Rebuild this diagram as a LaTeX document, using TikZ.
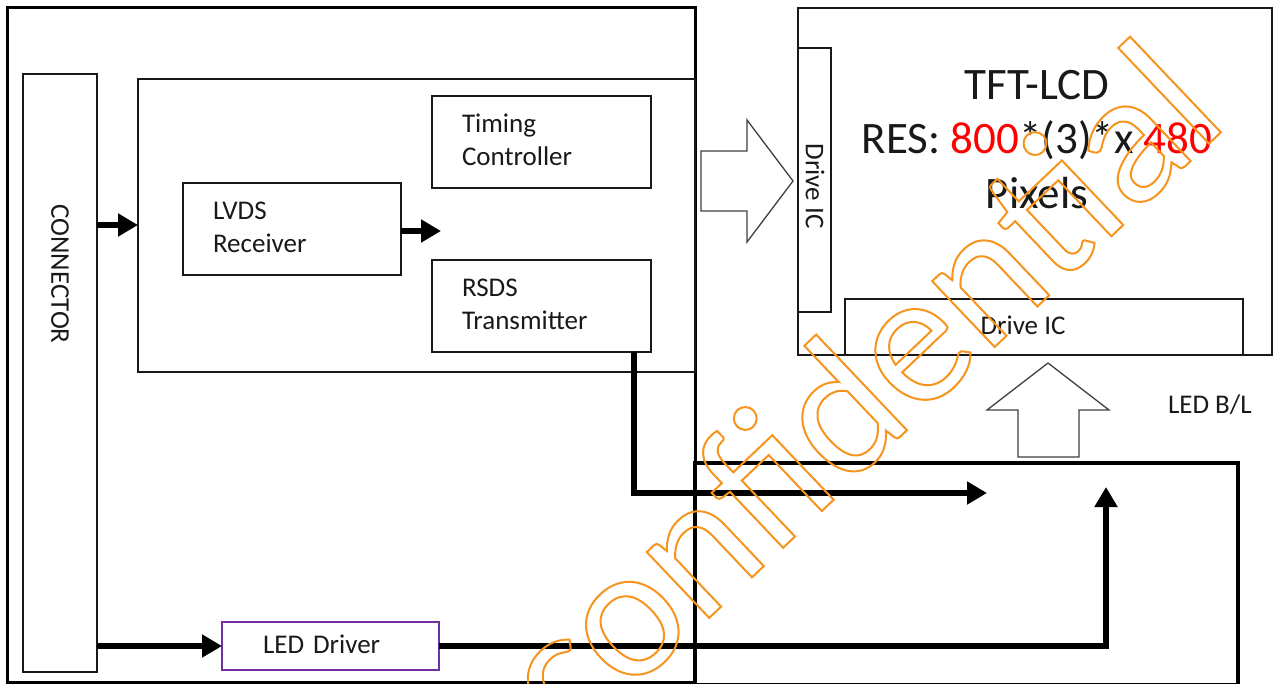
\documentclass[tikz,border=0pt]{standalone}
\usepackage{fontspec}
\setmainfont{Carlito}
\usetikzlibrary{arrows.meta,calc}
\definecolor{wm}{RGB}{247,148,30}
\definecolor{ledpurple}{RGB}{112,48,160}
\definecolor{lcdred}{RGB}{255,0,0}
\begin{document}
\begin{tikzpicture}[x=1pt,y=-1pt,
  every node/.style={inner sep=0pt, outer sep=0pt},
  blk/.style={draw=black!90, line width=1.6pt, rectangle, anchor=north west},
  txt/.style={font=\fontsize{27}{33}\selectfont, text=black!90},
  lbox/.style={blk, txt, align=left, inner xsep=30pt},
  fat/.style={line width=6pt, line join=miter, -{Triangle[length=20pt,width=22pt]}},
  hollow/.style={draw=black!75, line width=1.3pt, line join=miter},
  bigtxt/.style={font=\fontsize{45}{54}\selectfont, text=black!90, anchor=base}
]
\useasboundingbox (0,0) rectangle (1274,683);
\fill[white] (0,0) rectangle (1274,683);

% left module
\node[blk, line width=3pt, draw=black, minimum width=688pt, minimum height=675pt] (outer) at (7,7) {};
\node[blk, minimum width=557pt, minimum height=293pt] (ctrl) at (138,79) {};
\node[blk, minimum width=74pt, minimum height=598pt] (conn) at (23,74) {};
\node[txt, rotate=-90] (conntxt) at (60,274) {CONNECTOR};
\node[lbox, text width=158pt, minimum height=92pt] (lvds) at (183,183) {LVDS\\Receiver\vspace{4pt}};
\node[lbox, text width=159pt, minimum height=92pt] (tcon) at (432,96) {Timing\\Controller\vspace{4pt}};
\node[lbox, text width=159pt, minimum height=92pt] (rsds) at (432,260) {RSDS\\Transmitter\vspace{4pt}};
\node[lbox, draw=ledpurple, line width=1.4pt, inner xsep=41pt, text width=135pt, minimum height=48pt] (led) at (222,622) {LED Driver\vspace{3pt}};

% panel
\node[blk, minimum width=474pt, minimum height=347pt] (lcd) at (798,8) {};
\node[blk, minimum width=33pt, minimum height=264pt] (dicl) at (798,48) {};
\node[txt, rotate=-90] (dicltxt) at (815,186) {Drive IC};
\node[blk, minimum width=398pt, minimum height=56pt] (dicb) at (845,299) {};
\node[txt] (dicbtxt) at (1023,325) {Drive IC};
\node[bigtxt] (l1) at (1037,99) {TFT-LCD};
\node[bigtxt] (l2) at (1037,153) {RES: \textcolor{lcdred}{800}*(3)*x \textcolor{lcdred}{480}};
\node[bigtxt] (l3) at (1037,208) {Pixels};

% backlight
\node[blk, line width=3.5pt, draw=black, minimum width=543pt, minimum height=222pt] (ledbox) at (695,463) {};
\node[txt, anchor=base west] (bltxt) at (1168,413) {LED B/L};

% block arrows
\draw[hollow] (701,151) -- (747,151) -- (747,120) -- (793,181) -- (747,242) -- (747,211) -- (701,211) -- cycle;
\draw[hollow] (1018,457) -- (1018,410) -- (987,410) -- (1048,363) -- (1109,410) -- (1079,410) -- (1079,457) -- cycle;

% connectors
\draw[fat] ($(conn.north east)+(0,151)$) -- ($(ctrl.north west)+(0,146)$);
\coordinate (lvtip) at (441,231);
\draw[fat] (lvds.east |- lvtip) -- (lvtip);
\coordinate (rstip) at (987,493);
\draw[fat] ($(rsds.south east)+(-17,0)$) |- (rstip);
\draw[fat] (conn.east |- led.west) -- (led.west);
\coordinate (uptip) at (1106,487);
\draw[fat] (led.east) -| (uptip);

% watermark
\node[anchor=base west, rotate=43.5, text=wm, font=\fontsize{190}{190}\selectfont] (wmk) at (570,750)
  {\special{pdf:literal 1 Tr 2 w}confidential\special{pdf:literal 0 Tr}};
\end{tikzpicture}
\end{document}
